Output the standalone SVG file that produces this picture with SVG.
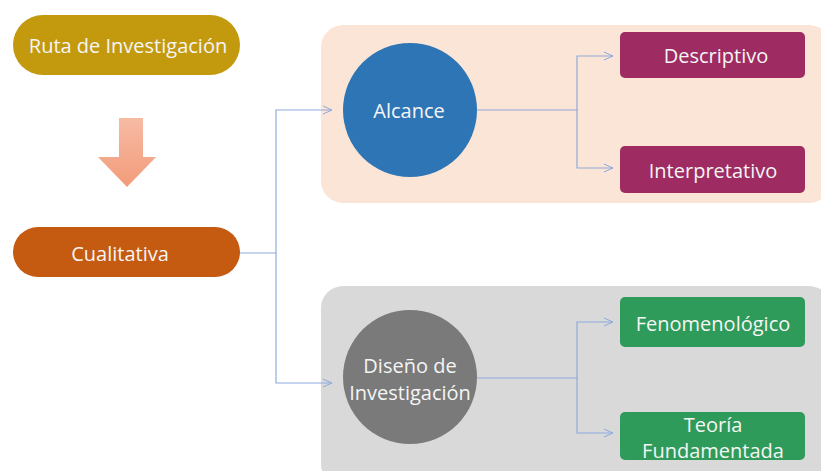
<svg xmlns="http://www.w3.org/2000/svg" width="821" height="471" viewBox="0 0 821 471">
<defs>
<linearGradient id="arrGrad" x1="0" y1="0" x2="0" y2="1">
<stop offset="0" stop-color="#F6BBA4"/>
<stop offset="1" stop-color="#F39B7A"/>
</linearGradient>
<marker id="chev" markerWidth="12" markerHeight="10" refX="10" refY="5" orient="auto" markerUnits="userSpaceOnUse">
<path d="M1,1 L10,5 L1,9" fill="none" stroke="#8FAADC" stroke-width="1"/>
</marker>
</defs>
<style>
text{font-family:"Open Sans","Liberation Sans",sans-serif;fill:#F5F5F5;text-anchor:middle;dominant-baseline:central}
.big{font-size:20px}
.conn{fill:none;stroke:#8FAADC;stroke-width:1.2}
</style>
<rect width="821" height="471" fill="#FFFFFF"/>
<g id="panel-top"><rect x="321" y="25" width="510" height="178" rx="22" fill="#FBE5D6"/></g>
<g id="panel-bottom"><rect x="321" y="286" width="510" height="200" rx="22" fill="#D9D9D9"/></g>
<g id="ruta"><rect x="13" y="15" width="227" height="60" rx="30" fill="#C39A0E"/><text class="big" x="128" y="45">Ruta de Investigación</text></g>
<g id="flecha"><path d="M119,118 H143 V157 H156 L127,187 L98,157 H119 Z" fill="url(#arrGrad)"/></g>
<g id="cualitativa"><rect x="13" y="227" width="227" height="50" rx="25" fill="#C55A11"/><text class="big" x="120" y="253">Cualitativa</text></g>
<g id="alcance"><circle cx="410" cy="110" r="67" fill="#2E75B6"/><text class="big" x="409" y="110">Alcance</text></g>
<g id="diseno"><circle cx="410" cy="377" r="67" fill="#7A7A7A"/><text class="big" x="410" y="365">Diseño de</text><text class="big" x="410" y="392">Investigación</text></g>
<g id="descriptivo"><rect x="620" y="32" width="185" height="46" rx="5" fill="#9E2B61"/><text class="big" x="716" y="55">Descriptivo</text></g>
<g id="interpretativo"><rect x="620" y="146" width="185" height="47" rx="5" fill="#9E2B61"/><text class="big" x="713" y="170">Interpretativo</text></g>
<g id="fenomenologico"><rect x="620" y="297" width="185" height="50" rx="5" fill="#2E9B5A"/><text class="big" x="713" y="323">Fenomenológico</text></g>
<g id="teoria"><rect x="620" y="412" width="185" height="48" rx="5" fill="#2E9B5A"/><text class="big" x="713" y="424">Teoría</text><text class="big" x="713" y="450">Fundamentada</text></g>
<g id="connectors">
<path class="conn" d="M240,253 H276 V110 H332" marker-end="url(#chev)"/>
<path class="conn" d="M276,253 V383 H332" marker-end="url(#chev)"/>
<path class="conn" d="M477,110 H577 V56 H613" marker-end="url(#chev)"/>
<path class="conn" d="M577,110 V168 H613" marker-end="url(#chev)"/>
<path class="conn" d="M477,378 H577 V322 H613" marker-end="url(#chev)"/>
<path class="conn" d="M577,378 V433 H613" marker-end="url(#chev)"/>
</g>
</svg>
